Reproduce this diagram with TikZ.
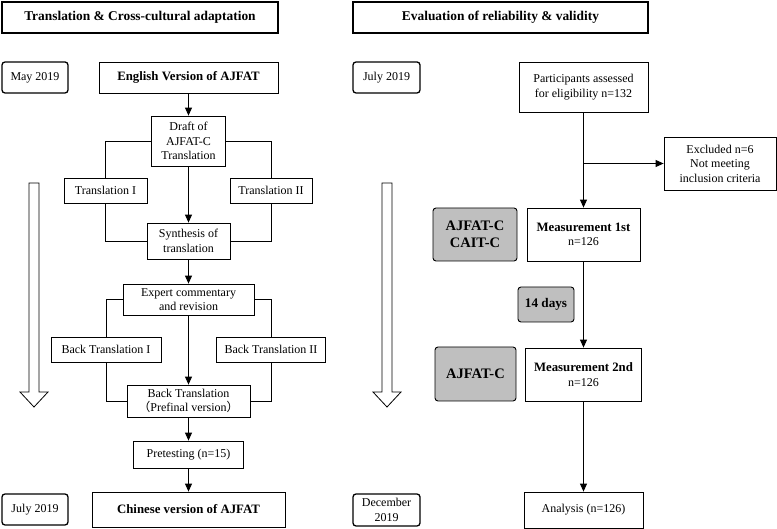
\documentclass[tikz,border=0pt]{standalone}
\usepackage{fontspec}
\setmainfont{Liberation Serif}
\newfontfamily\cjk{Noto Sans CJK SC}
\usetikzlibrary{arrows.meta}
\tikzset{
  box/.style={draw, line width=0.8pt, inner sep=0pt, align=center, font=\fontsize{12}{14.5}\selectfont},
  boldtxt/.style={font=\fontsize{12.8}{14.5}\selectfont\bfseries},
  hdr/.style={draw, line width=1.6pt, inner sep=0pt, align=center, font=\fontsize{13.4}{15}\selectfont\bfseries},
  datebox/.style={draw, line width=1.3pt, rounded corners=3pt, inner sep=0pt, align=center, font=\fontsize{12}{14.5}\selectfont},
  graybox/.style={draw, line width=0.9pt, fill=black!25, rounded corners=3pt, inner sep=0pt, align=center, font=\fontsize{14.5}{17}\selectfont\bfseries},
  conn/.style={line width=0.9pt},
  arr/.style={line width=0.9pt, -{Triangle[length=8pt,width=7pt]}},
  hollow/.style={draw, line width=0.8pt, fill=white},
}
\begin{document}
\begin{tikzpicture}[x=1pt,y=-1pt]
\useasboundingbox (0,0) rectangle (777,529);
% headers
\node[hdr, minimum width=276pt, minimum height=31pt] (hdrL) at (140,17.5) {Translation \& Cross-cultural adaptation};
\node[hdr, minimum width=295pt, minimum height=31pt] (hdrR) at (500.5,17.5) {Evaluation of reliability \& validity};
% dates
\node[datebox, minimum width=66pt, minimum height=31pt] (may) at (35,77.5) {May 2019};
\node[datebox, minimum width=66pt, minimum height=31pt] (julyL) at (35,509.5) {July 2019};
\node[datebox, minimum width=67pt, minimum height=31pt] (julyR) at (386.5,77.5) {July 2019};
\node[datebox, minimum width=67pt, minimum height=32pt] (dec) at (386.5,510) {December\\2019};
% hollow arrows
\draw[hollow] (29,183) -- (39,183) -- (39,392) -- (48,392) -- (34,407) -- (20,392) -- (29,392) -- cycle;
\draw[hollow] (382,183) -- (392,183) -- (392,392) -- (401,392) -- (387,407) -- (373,392) -- (382,392) -- cycle;
% left flow
\node[box, boldtxt, minimum width=179pt, minimum height=31pt] (eng) at (188.5,77.5) {English Version of AJFAT};
\node[box, minimum width=74pt, minimum height=50pt] (draft) at (188.5,141) {Draft of\\AJFAT-C\\Translation};
\node[box, minimum width=83pt, minimum height=25pt] (tr1) at (105.5,190.5) {Translation I};
\node[box, minimum width=82pt, minimum height=25pt] (tr2) at (271,190.5) {Translation II};
\node[box, minimum width=83pt, minimum height=36pt] (syn) at (188.5,241) {Synthesis of\\translation};
\node[box, minimum width=131pt, minimum height=31pt] (exp) at (188.5,299.5) {Expert commentary\\and revision};
\node[box, minimum width=110pt, minimum height=25pt] (bt1) at (106,349.5) {Back Translation I};
\node[box, minimum width=109pt, minimum height=25pt] (bt2) at (271,349.5) {Back Translation II};
\node[box, minimum width=123pt, minimum height=32pt] (pre) at (188.5,401) {Back Translation\\{\cjk （}Prefinal version{\cjk ）}};
\node[box, minimum width=110pt, minimum height=27pt] (pt) at (188.5,454.5) {Pretesting (n=15)};
\node[box, boldtxt, minimum width=193pt, minimum height=35pt] (chn) at (188.5,509.5) {Chinese version of AJFAT};
\draw[arr] (eng) -- (draft);
\draw[arr] (draft) -- (syn);
\draw[arr] (syn) -- (exp);
\draw[arr] (exp) -- (pre);
\draw[arr] (pre) -- (pt);
\draw[arr] (pt) -- (chn);
\draw[conn] (draft.west) -| (tr1.north);
\draw[conn] (draft.east) -| (tr2.north);
\draw[conn] (tr1.south) |- (syn.west);
\draw[conn] (tr2.south) |- (syn.east);
\draw[conn] (exp.west) -| (bt1.north);
\draw[conn] (exp.east) -| (bt2.north);
\draw[conn] (bt1.south) |- (pre.west);
\draw[conn] (bt2.south) |- (pre.east);
% right flow
\node[box, minimum width=129pt, minimum height=50pt] (part) at (583.5,87) {Participants assessed\\for eligibility n=132};
\node[box, minimum width=112pt, minimum height=53pt] (excl) at (720,163.5) {Excluded n=6\\Not meeting\\inclusion criteria};
\node[graybox, minimum width=84pt, minimum height=53pt] (g1) at (475,234.5) {AJFAT-C\\CAIT-C};
\node[box, minimum width=113pt, minimum height=53pt] (m1) at (583.5,234.5) {{\fontsize{12.8}{14.5}\selectfont\bfseries Measurement 1st}\\n=126};
\node[graybox, minimum width=56pt, minimum height=35pt, font=\fontsize{13.2}{15}\selectfont\bfseries] (days) at (546,304.5) {14 days};
\node[graybox, minimum width=81pt, minimum height=54pt] (g2) at (475.5,374) {AJFAT-C};
\node[box, minimum width=116pt, minimum height=53pt] (m2) at (583.5,374.5) {{\fontsize{12.8}{14.5}\selectfont\bfseries Measurement 2nd}\\n=126};
\node[box, minimum width=119pt, minimum height=36pt] (ana) at (583.5,510) {Analysis (n=126)};
\coordinate (br) at (part.south |- excl.west);
\draw[arr] (part) -- (m1);
\draw[arr] (br) -- (excl.west);
\draw[arr] (m1) -- (m2);
\draw[arr] (m2) -- (ana);
\end{tikzpicture}
\end{document}
